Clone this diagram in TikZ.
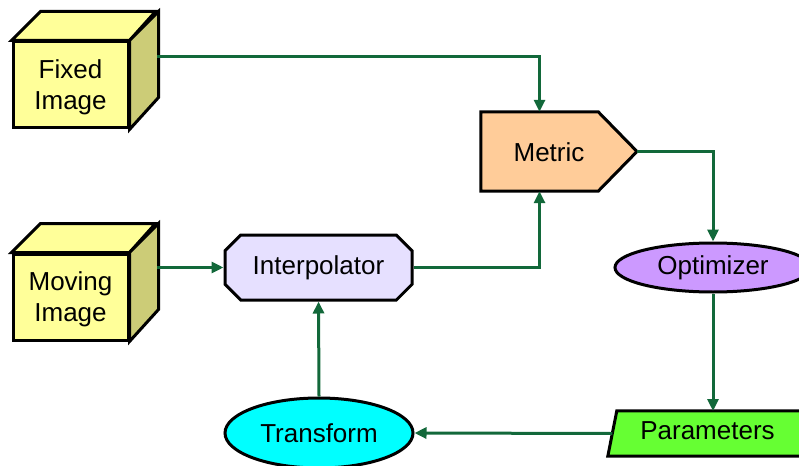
\documentclass[tikz,border=0pt]{standalone}
\usepackage{fontspec}
\setmainfont{Liberation Sans}
\usetikzlibrary{arrows.meta,shapes.geometric,shapes.misc}
\definecolor{flowgreen}{RGB}{18,104,58}
\definecolor{cubefront}{RGB}{255,255,153}
\definecolor{cubeside}{RGB}{204,204,119}
\definecolor{metricfill}{RGB}{255,204,153}
\definecolor{interpfill}{RGB}{230,224,255}
\definecolor{optfill}{RGB}{204,153,255}
\definecolor{transfill}{RGB}{0,255,255}
\definecolor{paramfill}{RGB}{102,255,51}
\begin{document}
\begin{tikzpicture}[x=1pt,y=-1pt,
  label font/.style={font=\fontsize{26}{31}\selectfont},
  outline/.style={draw=black,line width=3pt,line join=miter},
  cubeface/.style={outline,fill=cubefront,minimum width=115pt,minimum height=86pt,inner sep=0pt},
  textonly/.style={inner sep=0pt,align=center,label font},
  blankbox/.style={draw=none,inner sep=0pt},
  flow/.style={draw=flowgreen,line width=3pt,-{Triangle[length=12pt,width=11pt]}}
]
\useasboundingbox (0,0) rectangle (799,465);

% fixed image cube
\node[cubeface] (fixed) at (70.5,85) {};
\draw[outline,fill=cubefront] (fixed.north west) -- ++(29,-29) -- ++(115,0) -- (fixed.north east) -- cycle;
\draw[outline,fill=cubeside] (fixed.north east) -- ++(29,-29) -- ++(0,86) -- (fixed.south east) -- cycle;
\node[textonly] (fixedtext) at (70.5,87.5) {Fixed\\Image};
\coordinate (fixedside) at (157,57);

% moving image cube
\node[cubeface] (moving) at (70.5,297) {};
\draw[outline,fill=cubefront] (moving.north west) -- ++(29,-29) -- ++(115,0) -- (moving.north east) -- cycle;
\draw[outline,fill=cubeside] (moving.north east) -- ++(29,-29) -- ++(0,86) -- (moving.south east) -- cycle;
\node[textonly] (movingtext) at (70.5,299.5) {Moving\\Image};
\coordinate (movingside) at (157,267.5);

% metric: box with a pointed right end
\node[blankbox,minimum width=117pt,minimum height=79pt] (metric) at (539.5,151.5) {};
\coordinate (metrictip) at (637,151.5);
\draw[outline,fill=metricfill] (metric.north west) -- (metric.north east) -- (metrictip)
  -- (metric.south east) -- (metric.south west) -- cycle;
\node[textonly] (metrictext) at (549,152) {Metric};

% interpolator
\node[outline,fill=interpfill,chamfered rectangle,chamfered rectangle xsep=18pt,
  minimum width=187pt,minimum height=65pt,inner sep=0pt,label font] (interp) at (318.5,267.5) {Interpolator};

% optimizer
\node[outline,fill=optfill,ellipse,minimum width=196pt,minimum height=49pt,inner sep=0pt,label font]
  (opt) at (713,267.5) {Optimizer};

% transform
\node[outline,fill=transfill,ellipse,minimum width=188pt,minimum height=70pt,inner sep=0pt,label font]
  (trans) at (319,433) {Transform};

% parameters: slanted box
\node[blankbox,minimum width=195pt,minimum height=45pt] (params) at (710,433.5) {};
\draw[outline,fill=paramfill] ([xshift=4.5pt]params.north west) -- ([xshift=4.5pt]params.north east)
  -- ([xshift=-4.5pt]params.south east) -- ([xshift=-4.5pt]params.south west) -- cycle;
\node[textonly] (paramtext) at (707.5,431) {Parameters};

% connections
\draw[flow] (fixedside) -| (metric.north);
\draw[flow] (movingside) -- (interp.west);
\draw[flow] (interp.east) -| (metric.south);
\draw[flow] (metrictip) -| (opt.north);
\draw[flow] (opt.south) -- (713,411);
\draw[flow] (params.west) -- (trans.east);
\draw[flow] (trans.north) -- (interp.south);
\end{tikzpicture}
\end{document}
